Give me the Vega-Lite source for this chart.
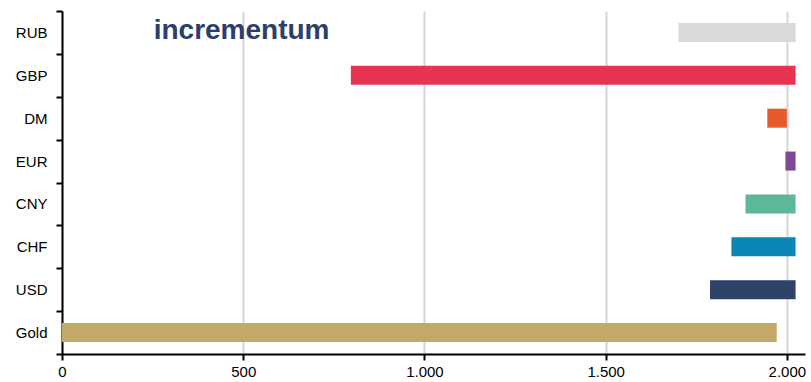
{
  "$schema": "https://vega.github.io/schema/vega-lite/v6.json",
  "autosize": "none",
  "width": 743,
  "height": 343,
  "padding": {"left": 62, "top": 11, "right": 6, "bottom": 28},
  "background": "white",
  "config": {
    "view": {"stroke": null},
    "font": "Liberation Sans"
  },
  "datasets": {
    "bars": [
      {"currency": "RUB", "start": 1701, "end": 2024, "color": "#d9d8da"},
      {"currency": "GBP", "start": 797, "end": 2024, "color": "#e83353"},
      {"currency": "DM", "start": 1946, "end": 2000, "color": "#e85a2b"},
      {"currency": "EUR", "start": 1996, "end": 2024, "color": "#7e4a98"},
      {"currency": "CNY", "start": 1886, "end": 2024, "color": "#5cb896"},
      {"currency": "CHF", "start": 1847, "end": 2024, "color": "#0b86b7"},
      {"currency": "USD", "start": 1788, "end": 2024, "color": "#2e4169"},
      {"currency": "Gold", "start": 0, "end": 1972, "color": "#c2a96a"}
    ],
    "logo": [
      {"currency": "RUB", "x": 253, "label": "incrementum"}
    ]
  },
  "layer": [
    {
      "data": {"name": "bars"},
      "mark": {"type": "bar", "size": 19},
      "encoding": {
        "y": {
          "field": "currency",
          "type": "nominal",
          "sort": ["RUB", "GBP", "DM", "EUR", "CNY", "CHF", "USD", "Gold"],
          "scale": {"paddingInner": 0, "paddingOuter": 0},
          "axis": {
            "title": null,
            "tickBand": "extent",
            "domainColor": "black",
            "domainWidth": 2,
            "tickColor": "black",
            "tickWidth": 2,
            "tickSize": 6,
            "labelPadding": 9,
            "labelFontSize": 15,
            "labelColor": "black",
            "labelFont": "Liberation Sans"
          }
        },
        "x": {
          "field": "start",
          "type": "quantitative",
          "scale": {"domain": [0, 2050], "nice": false},
          "axis": {
            "title": null,
            "values": [0, 500, 1000, 1500, 2000],
            "labelExpr": "replace(format(datum.value, ','), ',', '.')",
            "grid": true,
            "gridColor": "#d6d6d6",
            "gridWidth": 2,
            "domainColor": "black",
            "domainWidth": 2,
            "tickColor": "black",
            "tickWidth": 2,
            "tickSize": 6,
            "labelPadding": 4,
            "labelFontSize": 15,
            "labelColor": "black",
            "labelFont": "Liberation Sans",
            "labelFlush": false
          }
        },
        "x2": {"field": "end"},
        "color": {"field": "color", "type": "nominal", "scale": null, "legend": null}
      }
    },
    {
      "data": {"name": "logo"},
      "mark": {
        "type": "text",
        "align": "left",
        "baseline": "middle",
        "font": "Liberation Sans",
        "fontWeight": "bold",
        "fontSize": 28,
        "color": "#2d3e6b",
        "dy": -1
      },
      "encoding": {
        "y": {"field": "currency", "type": "nominal", "sort": ["RUB", "GBP", "DM", "EUR", "CNY", "CHF", "USD", "Gold"]},
        "x": {"field": "x", "type": "quantitative"},
        "text": {"field": "label"}
      }
    }
  ]
}
